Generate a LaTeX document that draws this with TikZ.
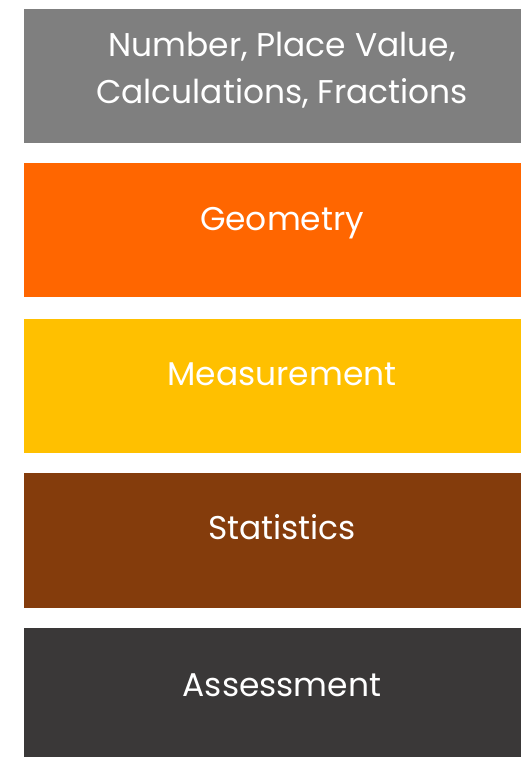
\documentclass[tikz,border=0pt]{standalone}
\usepackage{fontspec}
\setmainfont{Poppins}
\definecolor{cgray}{HTML}{7F7F7F}
\definecolor{corange}{HTML}{FF6600}
\definecolor{cyellow}{HTML}{FFC000}
\definecolor{cbrown}{HTML}{843C0C}
\definecolor{cdark}{HTML}{3A3838}
\begin{document}
\begin{tikzpicture}[x=1bp,y=-1bp,
  lbl/.style={text=white, font=\fontsize{33}{46}\selectfont, inner sep=0pt, anchor=base}]
\useasboundingbox (0,0) rectangle (521,757);
\fill[white] (0,0) rectangle (521,757);
\fill[cgray]   (24,9)   rectangle (521,143) coordinate (b1);
\fill[corange] (24,163) rectangle (521,297) coordinate (b2);
\fill[cyellow] (24,319) rectangle (521,453) coordinate (b3);
\fill[cbrown]  (24,473) rectangle (521,608) coordinate (b4);
\fill[cdark]   (24,628) rectangle (521,757) coordinate (b5);
\node[lbl] (t1) at (282,57) {Number, Place Value,};
\node[lbl] (t1b) at (282,103) {Calculations, Fractions};
\node[lbl] (t2) at (282,230) {Geometry};
\node[lbl] (t3) at (282,385) {Measurement};
\node[lbl] (t4) at (282,539) {Statistics};
\node[lbl] (t5) at (282,696) {Assessment};
\end{tikzpicture}
\end{document}
